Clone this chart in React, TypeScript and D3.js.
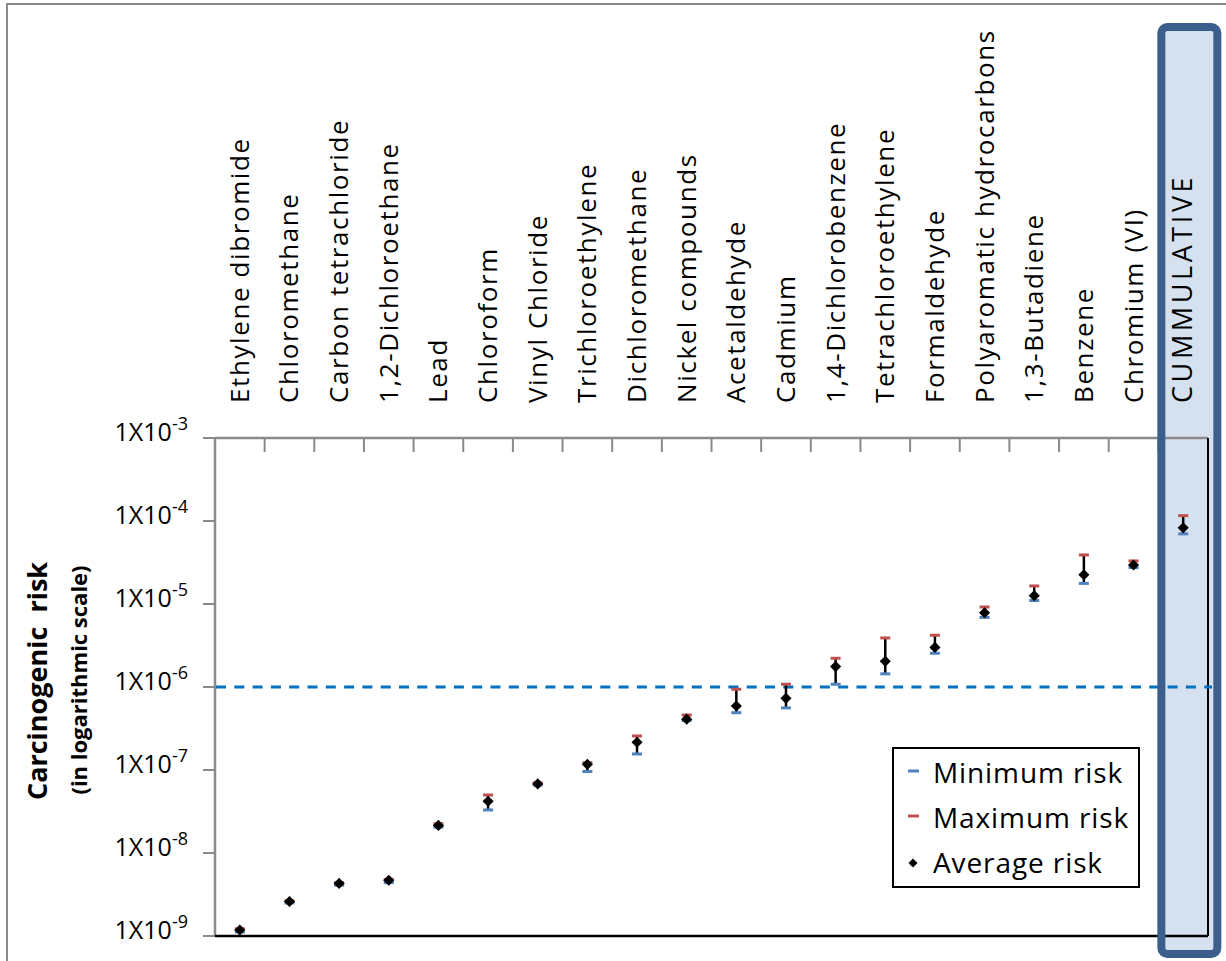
import { useMemo } from "react";
import * as d3 from "d3";

const categories = [
  "Ethylene dibromide",
  "Chloromethane",
  "Carbon tetrachloride",
  "1,2-Dichloroethane",
  "Lead",
  "Chloroform",
  "Vinyl Chloride",
  "Trichloroethylene",
  "Dichloromethane",
  "Nickel compounds",
  "Acetaldehyde",
  "Cadmium",
  "1,4-Dichlorobenzene",
  "Tetrachloroethylene",
  "Formaldehyde",
  "Polyaromatic hydrocarbons",
  "1,3-Butadiene",
  "Benzene",
  "Chromium (VI)",
  "CUMMULATIVE",
];

const avgRisk = [
  1.18e-9, 2.6e-9, 4.3e-9, 4.7e-9, 2.15e-8, 4.2e-8, 6.8e-8, 1.17e-7, 2.16e-7, 4.1e-7,
  5.9e-7, 7.3e-7, 1.76e-6, 2.04e-6, 3.0e-6, 7.85e-6, 1.26e-5, 2.25e-5, 2.95e-5, 8.3e-5,
];
const minRisk = [
  1.12e-9, 2.5e-9, 4.1e-9, 4.4e-9, 2.05e-8, 3.3e-8, 6.6e-8, 9.6e-8, 1.56e-7, 3.95e-7,
  4.9e-7, 5.6e-7, 1.08e-6, 1.44e-6, 2.55e-6, 6.9e-6, 1.1e-5, 1.77e-5, 2.75e-5, 7.0e-5,
];
const maxRisk = [
  1.22e-9, 2.65e-9, 4.4e-9, 4.8e-9, 2.25e-8, 5.0e-8, 7.0e-8, 1.22e-7, 2.57e-7, 4.6e-7,
  9.4e-7, 1.08e-6, 2.22e-6, 3.9e-6, 4.2e-6, 9.2e-6, 1.65e-5, 3.9e-5, 3.3e-5, 1.16e-4,
];

const tickExponents = [-3, -4, -5, -6, -7, -8, -9];
const threshold = 1e-6;

const legendItems = ["Minimum risk", "Maximum risk", "Average risk"];

const W = 1226;
const H = 961;
const FONT = "'Open Sans', 'DejaVu Sans', sans-serif";
const GRAY = "#8a8a8a";
const BLUE = "#4F81BD";
const RED = "#C0504D";

export default function App() {
  const left = 215;
  const right = 1208;
  const top = 438;
  const bottom = 936;

  const x = useMemo(
    () => d3.scaleBand<string>().domain(categories).range([left, right]).padding(0),
    []
  );
  const y = useMemo(() => d3.scaleLog().domain([1e-9, 1e-3]).range([bottom, top]), []);

  const diamond = d3.symbol().type(d3.symbolSquare).size(62)() as string;
  const legendDiamond = d3.symbol().type(d3.symbolSquare).size(40)() as string;

  const bw = x.bandwidth();
  const cx = (c: string) => (x(c) as number) + bw / 2;
  const capW = 10;

  const cum = categories[categories.length - 1];
  const boxX = (x(cum) as number) + 3;

  return (
    <div style={{ position: "absolute", left: 0, top: 0 }}>
      <svg width={W} height={H} style={{ display: "block", background: "#fff" }}>
        {/* outer frame */}
        <rect x={7} y={4} width={W + 20} height={H + 20} fill="none" stroke={GRAY} strokeWidth={2} />

        {/* cumulative highlight fill */}
        <rect x={boxX} y={27} width={56} height={927} rx={6} fill="#D6E1EF" stroke="none" />

        {/* top axis with category ticks */}
        <line x1={left} x2={right} y1={top} y2={top} stroke={GRAY} strokeWidth={2.5} />
        {categories.slice(1).map((c) => (
          <line
            key={"t" + c}
            x1={x(c) as number}
            x2={x(c) as number}
            y1={top}
            y2={top + 14}
            stroke={GRAY}
            strokeWidth={2}
          />
        ))}

        {/* left axis */}
        <line x1={left} x2={left} y1={top} y2={bottom} stroke={GRAY} strokeWidth={2.5} />
        {tickExponents.map((e) => (
          <g key={e}>
            <line
              x1={left - 12}
              x2={left}
              y1={y(Math.pow(10, e))}
              y2={y(Math.pow(10, e))}
              stroke={GRAY}
              strokeWidth={2}
            />
            <text
              x={188}
              y={y(Math.pow(10, e)) + 3}
              textAnchor="end"
              fontFamily={FONT}
              fontSize={25}
              fill="#000"
            >
              1X10
              <tspan dy={-11} fontSize={18}>
                {e}
              </tspan>
            </text>
          </g>
        ))}

        {/* right & bottom border */}
        <line x1={right} x2={right} y1={top} y2={bottom} stroke="#000" strokeWidth={2} />
        <line x1={left} x2={right} y1={bottom} y2={bottom} stroke="#000" strokeWidth={2.5} />

        {/* threshold */}
        <line
          x1={left + 1}
          x2={right + 4}
          y1={y(threshold)}
          y2={y(threshold)}
          stroke="#0070C0"
          strokeWidth={3}
          strokeDasharray="10,8.3"
        />

        {/* category labels */}
        {categories.map((c) => (
          <text
            key={"l" + c}
            transform={`translate(${cx(c) + 9},403) rotate(-90)`}
            fontFamily={FONT}
            fontSize={c === cum ? 27 : 26}
            letterSpacing={c === cum ? 3.6 : 1.6}
            fill="#000"
          >
            {c}
          </text>
        ))}

        {/* error bars and markers */}
        {categories.map((c, i) => (
          <g key={"p" + c}>
            <line
              x1={cx(c)}
              x2={cx(c)}
              y1={y(minRisk[i])}
              y2={y(maxRisk[i])}
              stroke="#000"
              strokeWidth={2.5}
            />
            <rect x={cx(c) - capW / 2} y={y(minRisk[i]) - 1.5} width={capW} height={3} fill={BLUE} />
            <rect x={cx(c) - capW / 2} y={y(maxRisk[i]) - 1.5} width={capW} height={3} fill={RED} />
            <path d={diamond} transform={`translate(${cx(c)},${y(avgRisk[i])}) rotate(45)`} fill="#000" />
          </g>
        ))}

        {/* cumulative box outline */}
        <rect x={boxX} y={27} width={56} height={927} rx={6} fill="none" stroke="#3B5E8C" strokeWidth={8} />

        {/* axis title */}
        <text
          transform="translate(47,681) rotate(-90)"
          textAnchor="middle"
          fontFamily={FONT}
          fontWeight="bold"
          fontSize={27}
          fill="#000"
          style={{ whiteSpace: "pre" }}
        >
          {"Carcinogenic  risk"}
        </text>
        <text
          transform="translate(87,680) rotate(-90)"
          textAnchor="middle"
          fontFamily={FONT}
          fontWeight="bold"
          fontSize={22}
          fill="#000"
        >
          (in logarithmic scale)
        </text>

        {/* legend */}
        <rect x={893} y={748} width={246} height={139} fill="#fff" stroke="#000" strokeWidth={2} />
        {legendItems.map((label, i) => {
          const ly = 783 + i * 45;
          return (
            <g key={label}>
              {i === 0 && <rect x={908} y={ly - 13.5} width={11} height={3} fill={BLUE} />}
              {i === 1 && <rect x={908} y={ly - 13.5} width={11} height={3} fill={RED} />}
              {i === 2 && (
                <path d={legendDiamond} transform={`translate(913,${ly - 10}) rotate(45)`} fill="#000" />
              )}
              <text x={933} y={ly} fontFamily={FONT} fontSize={28} letterSpacing={0.9} fill="#000">
                {label}
              </text>
            </g>
          );
        })}
      </svg>
    </div>
  );
}
